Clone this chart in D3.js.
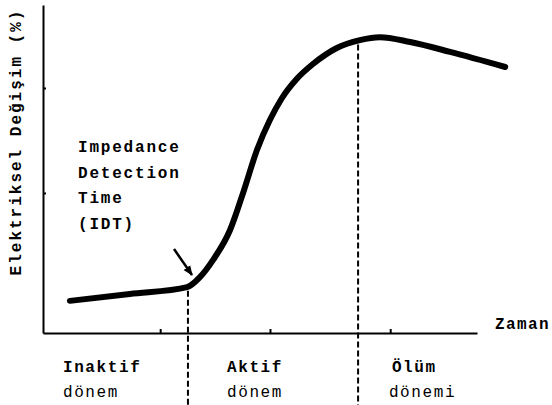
<!DOCTYPE html>
<html>
<head>
<meta charset="utf-8">
<script src="https://cdn.jsdelivr.net/npm/d3@7"></script>
<style>
  body { margin: 0; background: #fff; }
  text { font-family: "Liberation Mono", "DejaVu Sans Mono", monospace; fill: #000; }
</style>
</head>
<body>
<div class="chart"></div>
<script>
// Data (time and signal in arbitrary units 0-100).
const timeValues   = [6.2, 20.0, 33.2, 36.2, 39.2, 43.1, 46.1, 49.3, 52.3, 55.0, 58.5, 62.2, 67.7, 73.0, 77.6, 84.6, 93.8, 106.5];
const signalValues = [9.8, 11.9, 14.0, 17.1, 22.3, 31.4, 42.7, 55.8, 65.0, 71.5, 77.5, 82.0, 86.9, 89.3, 90.2, 88.7, 85.7, 81.1];
const phaseBounds  = [33.4, 72.6];
const phaseStarts  = [4.6, 42.4, 80.4];
const phaseNames   = ['Inaktif', 'Aktif', 'Ölüm'];
const phaseWords   = ['dönem', 'dönem', 'dönemi'];
const xMinorTicks  = [27, 52.3, 80];
const yMinorTicks  = [42.7, 74.7];
const noteLines    = ['Impedance', 'Detection', 'Time', '(IDT)'];

const curveData = timeValues.map((t, i) => ({t: t, v: signalValues[i]}));

// Size.
const W = 552, H = 405;
const xScale = d3.scaleLinear().domain([0, 100]).range([43, 477]);
const yScale = d3.scaleLinear().domain([0, 100]).range([333, 5]);

const svg = d3.select('.chart')
  .append('svg')
  .attr('width', W)
  .attr('height', H);

svg.append('defs')
  .append('marker')
  .attr('id', 'head')
  .attr('viewBox', '0 0 10 10')
  .attr('refX', 9)
  .attr('refY', 5)
  .attr('markerWidth', 4)
  .attr('markerHeight', 4)
  .attr('orient', 'auto')
  .append('path')
  .attr('d', 'M0,1 L10,5 L0,9 Z')
  .attr('fill', '#000');

// Axes.
const xAxis = d3.axisTop(xScale)
  .tickValues(xMinorTicks)
  .tickSizeInner(4)
  .tickSizeOuter(0)
  .tickFormat('');

svg.append('g')
  .attr('class', 'x axis')
  .attr('transform', `translate(0,${yScale(0)})`)
  .call(xAxis)
  .call(g => g.selectAll('path, line').attr('stroke', '#000').attr('stroke-width', 2));

const yAxis = d3.axisRight(yScale)
  .tickValues(yMinorTicks)
  .tickSizeInner(3)
  .tickSizeOuter(0)
  .tickFormat('');

svg.append('g')
  .attr('class', 'y axis')
  .attr('transform', `translate(${xScale(0)},0)`)
  .call(yAxis)
  .call(g => g.selectAll('path, line').attr('stroke', '#000').attr('stroke-width', 2));

// Curve.
const curvePath = svg.append('path')
  .datum(curveData)
  .attr('fill', 'none')
  .attr('stroke', '#000')
  .attr('stroke-width', 6)
  .attr('stroke-linecap', 'round')
  .attr('stroke-linejoin', 'round')
  .attr('d', d3.line()
    .x(d => xScale(d.t))
    .y(d => yScale(d.v))
    .curve(d3.curveMonotoneX)(curveData));

// find curve y at given x for boundary start
function curveYAt(px) {
  const node = curvePath.node();
  const len = node.getTotalLength();
  let lo = 0, hi = len;
  for (let i = 0; i < 40; i++) {
    const mid = (lo + hi) / 2;
    if (node.getPointAtLength(mid).x < px) lo = mid; else hi = mid;
  }
  return node.getPointAtLength(lo).y;
}

// Phase boundaries.
svg.selectAll('.bound')
  .data(phaseBounds)
  .enter()
  .append('line')
  .attr('class', 'bound')
  .attr('x1', d => xScale(d))
  .attr('x2', d => xScale(d))
  .attr('y1', d => curveYAt(xScale(d)) + 4)
  .attr('y2', H)
  .attr('stroke', '#000')
  .attr('stroke-width', 2)
  .attr('stroke-dasharray', '6,3');

// Phase labels.
svg.selectAll('.phase')
  .data(phaseNames)
  .enter()
  .append('text')
  .attr('class', 'phase')
  .attr('x', (d, i) => xScale(phaseStarts[i]))
  .attr('y', 372)
  .style('font-size', '16px')
  .style('font-weight', 'bold')
  .style('letter-spacing', '1.6px')
  .text(d => d);

svg.selectAll('.phase-word')
  .data(phaseWords)
  .enter()
  .append('text')
  .attr('class', 'phase-word')
  .attr('x', (d, i) => xScale(phaseStarts[i]) - (i === 2 ? 3 : 0))
  .attr('y', 397)
  .style('font-size', '16px')
  .style('letter-spacing', '1.6px')
  .text(d => d);

// Axis titles.
svg.append('text')
  .attr('x', 495)
  .attr('y', 329)
  .style('font-size', '16px')
  .style('font-weight', 'bold')
  .style('letter-spacing', '1.4px')
  .text('Zaman');

svg.append('text')
  .attr('transform', 'translate(21,142) rotate(-90)')
  .attr('text-anchor', 'middle')
  .style('font-size', '16px')
  .style('font-weight', 'bold')
  .style('letter-spacing', '2px')
  .text('Elektriksel Değişim (%)');

// IDT annotation.
svg.append('g')
  .selectAll('text')
  .data(noteLines)
  .enter()
  .append('text')
  .attr('x', 78)
  .attr('y', (d, i) => 152 + i * 25.5)
  .style('font-size', '16px')
  .style('font-weight', 'bold')
  .style('letter-spacing', '1.8px')
  .text(d => d);

svg.append('line')
  .attr('x1', 174)
  .attr('y1', 249)
  .attr('x2', 192)
  .attr('y2', 275)
  .attr('stroke', '#000')
  .attr('stroke-width', 2.5)
  .attr('marker-end', 'url(#head)');
</script>
</body>
</html>
